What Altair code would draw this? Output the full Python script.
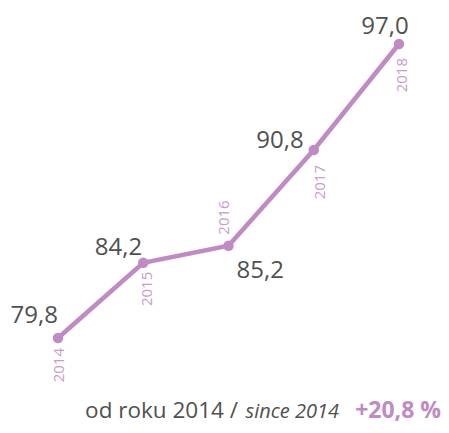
import altair as alt
import pandas as pd

years = [2014, 2015, 2016, 2017, 2018]
values = [79.8, 84.2, 85.2, 90.8, 97.0]
footer_regular = "od roku 2014 /"
footer_italic = "since 2014"
footer_bold = "+20,8 %"

df = pd.DataFrame({
    "year": years,
    "value": values,
    "label": [f"{v:.1f}".replace(".", ",") for v in values],
    "ylabel": [str(y) for y in years],
})

W, H = 433, 417
PURPLE = "#c08ac2"
YEARC = "#c99ccb"
GRAY = "#505050"
FONT = "Open Sans"

ppu = (330 - 36) / (97.0 - 79.8)
y_top = 97.0 + 36 / ppu
y_bot = 79.8 - (H - 330) / ppu
ppy = (391 - 50) / 4.0
x_lo = 2014 - 50 / ppy
x_hi = 2014 + (W - 50) / ppy

x = alt.X("year:Q", scale=alt.Scale(domain=[x_lo, x_hi], nice=False, zero=False), axis=None)
y = alt.Y("value:Q", scale=alt.Scale(domain=[y_bot, y_top], nice=False, zero=False), axis=None)

base = alt.Chart(df).encode(x=x, y=y)

line = base.mark_line(color=PURPLE, strokeWidth=4.6)
pts = base.mark_circle(color=PURPLE, size=110, opacity=1)

layers = [line, pts]

# value labels: (year, align, dx, dy)
vl = [(2014, "right", 0, -15), (2015, "right", -1, -8), (2016, "left", 8, 32),
      (2017, "right", -10, -2), (2018, "center", -14, -10)]
for yr, al, dx, dy in vl:
    layers.append(base.transform_filter(f"datum.year == {yr}").mark_text(
        font=FONT, fontSize=24, color=GRAY, align=al, baseline="alphabetic", dx=dx, dy=dy
    ).encode(text="label:N"))

# year labels rotated
yl = [(2014, "right", -10, 1), (2015, "right", -9, 4), (2016, "left", 11, -5),
      (2017, "right", -15, 6), (2018, "right", -14, 3)]
for yr, al, dx, dy in yl:
    layers.append(base.transform_filter(f"datum.year == {yr}").mark_text(
        font=FONT, fontSize=15, color=YEARC, align=al, baseline="middle", angle=270, dx=dx, dy=dy
    ).encode(text="ylabel:N"))

FY = 410
foot = alt.Chart(pd.DataFrame({"a": [0]}))
layers.append(foot.mark_text(font=FONT, fontSize=22.5, color=GRAY, align="right", baseline="alphabetic",
                             text=footer_regular).encode(x=alt.value(230), y=alt.value(FY)))
layers.append(foot.mark_text(font=FONT, fontSize=20, color=GRAY, align="right", baseline="alphabetic",
                             fontStyle="italic", text=footer_italic).encode(x=alt.value(331), y=alt.value(FY)))
layers.append(foot.mark_text(font=FONT, fontSize=23, color=PURPLE, align="right", baseline="alphabetic",
                             fontWeight="bold", text=footer_bold).encode(x=alt.value(433), y=alt.value(FY)))

chart = alt.layer(*layers).properties(
    width=W, height=H, padding=0, autosize=alt.AutoSizeParams(type="none")
).configure_view(stroke=None)

chart.save("out.html", embed_options={"renderer": "svg", "actions": False})
